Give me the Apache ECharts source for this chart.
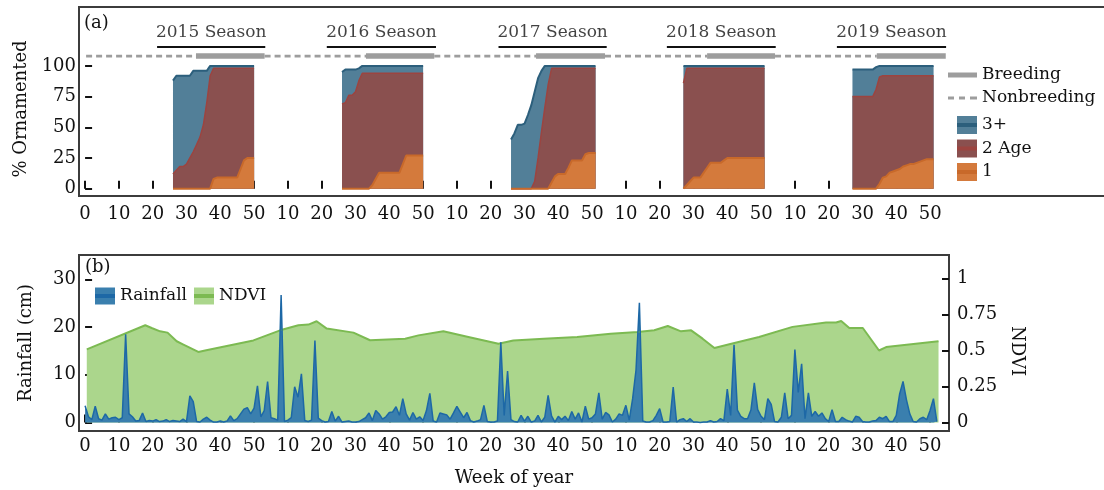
<!DOCTYPE html>
<html>
<head>
<meta charset="utf-8">
<script src="https://cdn.jsdelivr.net/npm/echarts@6/dist/echarts.min.js"></script>
<style>
  html, body { margin: 0; padding: 0; background: #fff; }
  #chart { width: 1104px; height: 490px; }
</style>
</head>
<body>
<div id="chart"></div>
<script>
// Shared week axis: every year takes 50 units, 2015 starts at 0.
const seasons = ['2015 Season', '2016 Season', '2017 Season', '2018 Season', '2019 Season'];
const yearOffset = [0, 50, 100, 150, 200];
const seasonFirstWeek = [26, 26, 26, 27, 27];

// Weekly % ornamented, one row per season, starting at seasonFirstWeek
const orn3Plus = [
  [88, 92, 92, 92, 92, 92, 96, 96, 96, 96, 96, 100, 100, 100, 100, 100, 100, 100, 100, 100, 100, 100, 100, 100, 100],
  [95, 97, 97, 97, 97, 98, 100, 100, 100, 100, 100, 100, 100, 100, 100, 100, 100, 100, 100, 100, 100, 100, 100, 100, 100],
  [40, 45, 52, 52, 53, 60, 68, 79, 90, 96, 100, 100, 100, 100, 100, 100, 100, 100, 100, 100, 100, 100, 100, 100, 100, 100],
  [100, 100, 100, 100, 100, 100, 100, 100, 100, 100, 100, 100, 100, 100, 100, 100, 100, 100, 100, 100, 100, 100, 100, 100, 100],
  [97, 97, 97, 97, 97, 97, 97, 99, 100, 100, 100, 100, 100, 100, 100, 100, 100, 100, 100, 100, 100, 100, 100, 100, 100]
];
const orn2Age = [
  [12, 15, 18, 18, 20, 25, 30, 36, 42, 52, 70, 92, 98, 98, 98, 98, 98, 98, 98, 98, 98, 98, 98, 98, 98],
  [69, 70, 76, 76, 79, 88, 94, 94, 94, 94, 94, 94, 94, 94, 94, 94, 94, 94, 94, 94, 94, 94, 94, 94, 94],
  [0, 0, 0, 0, 0, 0, 0, 6, 25, 46, 66, 85, 98, 98, 98, 98, 98, 98, 98, 98, 98, 98, 98, 98, 98, 98],
  [86, 98, 98, 98, 98, 98, 98, 98, 98, 98, 98, 98, 98, 98, 98, 98, 98, 98, 98, 98, 98, 98, 98, 98, 98],
  [75, 75, 75, 75, 75, 75, 75, 81, 91, 92, 92, 92, 92, 92, 92, 92, 92, 92, 92, 92, 92, 92, 92, 92, 92]
];
const orn1 = [
  [0, 0, 0, 0, 0, 0, 0, 0, 0, 0, 0, 0, 8, 9, 9, 9, 9, 9, 9, 9, 16, 23, 25, 25, 25],
  [0, 0, 0, 0, 0, 0, 0, 0, 0, 3, 8, 13, 13, 13, 13, 13, 13, 13, 20, 27, 27, 27, 27, 27, 27],
  [0, 0, 0, 0, 0, 0, 0, 0, 0, 0, 0, 0, 5, 10, 12, 12, 12, 17, 23, 23, 23, 23, 28, 29, 29, 29],
  [0, 3, 6, 9, 9, 9, 13, 17, 21, 21, 21, 21, 23, 25, 25, 25, 25, 25, 25, 25, 25, 25, 25, 25, 25],
  [0, 0, 0, 0, 0, 0, 0, 0, 4, 9, 10, 13, 14, 15, 16, 18, 19, 20, 20, 21, 22, 23, 24, 24, 24]
];

// Breeding periods and season header spans (axis units)
const breedingStart = [32.8, 83.1, 133.4, 184.0, 234.2];
const breedingEnd = [53.1, 103.3, 153.8, 204.1, 254.6];
const trackStart = 0.3;
const seasonRuleStart = [21.3, 71.5, 122.3, 172.1, 222.4];
const seasonRuleEnd = [53.3, 103.8, 154.3, 204.3, 254.7];
const statusLevel = 108;
const ruleLevel = 115.5;
const headerLevel = 127;

// Weekly rainfall (cm), week index 0..252 on the shared axis
const rainfall = [
  3.5, 1.2, 0.6, 3.4, 0.8, 0.5, 1.8, 0.7, 1.0, 1.1,
  0.6, 1.0, 18.5, 1.8, 1.2, 0.3, 0.4, 2.0, 0.2, 0.4,
  0.3, 0.6, 0.2, 0.3, 0.6, 0.2, 0.4, 0.3, 0.2, 0.7,
  0.2, 5.6, 4.4, 0.2, 0.1, 0.7, 1.1, 0.5, 0.1, 0.1,
  0.3, 0.1, 0.3, 1.4, 0.4, 0.8, 1.8, 2.8, 3.1, 1.8,
  3.0, 7.7, 1.2, 2.5, 8.6, 1.0, 0.8, 0.5, 26.7, 0.2,
  0.5, 1.0, 7.5, 5.3, 10.2, 0.4, 0.2, 0.5, 17.2, 0.9,
  0.4, 0.1, 0.2, 2.3, 0.3, 1.3, 0.1, 0.2, 0.3, 0.1,
  0.1, 0.2, 0.6, 1.0, 2.0, 0.4, 2.5, 1.8, 0.7, 1.2,
  2.1, 2.2, 3.3, 1.5, 5.0, 1.8, 0.5, 2.1, 0.7, 1.2,
  0.4, 2.5, 6.1, 0.3, 0.1, 2.0, 1.8, 1.6, 0.7, 2.0,
  3.4, 2.2, 1.0, 2.1, 0.4, 0.1, 0.3, 0.6, 3.6, 0.2,
  0.1, 0.1, 0.3, 16.8, 1.5, 10.8, 0.6, 0.2, 0.1, 1.5,
  0.3, 1.3, 0.1, 0.3, 1.5, 0.1, 1.1, 5.7, 1.4, 0.1,
  1.3, 0.6, 1.3, 0.4, 2.3, 0.7, 2.0, 0.1, 3.4, 0.7,
  1.0, 1.8, 6.2, 0.7, 2.1, 1.6, 0.1, 0.7, 1.8, 1.5,
  3.6, 0.5, 5.0, 11.0, 25.1, 0.3, 0.1, 0.1, 0.4, 1.5,
  2.9, 0.1, 0.1, 0.2, 7.4, 0.1, 0.6, 0.8, 0.2, 0.8,
  0.1, 0.1, 0.0, 0.1, 0.1, 0.4, 0.1, 0.2, 0.8, 0.4,
  7.0, 1.5, 16.3, 2.6, 1.3, 0.8, 0.8, 2.6, 8.3, 2.7,
  1.3, 0.6, 5.0, 3.8, 0.2, 0.1, 1.1, 6.2, 0.8, 1.5,
  15.3, 6.3, 12.3, 0.8, 6.2, 1.3, 2.3, 1.3, 2.0, 0.8,
  0.2, 2.7, 0.2, 0.2, 1.1, 0.6, 0.3, 0.1, 1.3, 1.1,
  0.2, 0.1, 0.1, 0.3, 0.4, 1.1, 0.8, 1.3, 0.2, 0.2,
  1.5, 6.0, 8.6, 4.8, 1.8, 0.2, 0.1, 0.8, 1.1, 0.6,
  2.5, 5.0, 0.2
];

// NDVI readings: week index and value
const ndviWeek = [0.5, 17.8, 19.7, 22.2, 24.4, 27.1, 29.1, 33.5, 35.5, 49.8, 57.7, 63.1, 66.1, 68.5, 71.5,
  79.4, 84.3, 94.7, 98.6, 106, 113.4, 122.3, 126.7, 135.7, 145.6, 155.5, 163.5, 168.4, 172.4, 176.3,
  179.3, 182.7, 186.2, 191.2, 199.4, 209.3, 219.2, 222.2, 223.7, 226.1, 230.1, 234.9, 237, 252.5];
const ndvi = [0.508, 0.675, 0.656, 0.633, 0.624, 0.564, 0.541, 0.49, 0.50, 0.57, 0.64, 0.675, 0.68, 0.703, 0.652,
  0.624, 0.571, 0.582, 0.605, 0.633, 0.594, 0.547, 0.57, 0.582, 0.594, 0.617, 0.628, 0.64, 0.67, 0.633,
  0.64, 0.582, 0.517, 0.547, 0.594, 0.664, 0.694, 0.694, 0.705, 0.656, 0.656, 0.50, 0.524, 0.564];

// Axis ticks and labels
const weekTicks = [0, 10, 20, 30, 40, 50, 60, 70, 80, 90, 100, 110, 120, 130, 140, 150, 160, 170, 180, 190, 200, 210, 220, 230, 240, 250];
const weekTickLabels = ['0', '10', '20', '30', '40', '50', '10', '20', '30', '40', '50', '10', '20', '30', '40', '50',
  '10', '20', '30', '40', '50', '10', '20', '30', '40', '50'];
const ornTicks = [0, 25, 50, 75, 100];
const rainTicks = [0, 10, 20, 30];
const ndviTicks = [0, 0.25, 0.5, 0.75, 1];
const ndviTickLabels = ['0', '0.25', '0.5', '0.75', '1'];

const FONT = 'DejaVu Serif';
const INK = '#111';

function seasonData(table) {
  const out = [];
  table.forEach((vals, s) => {
    const x0 = yearOffset[s] + seasonFirstWeek[s];
    vals.forEach((v, i) => out.push([x0 + i, v]));
    out.push([x0 + vals.length - 1, '-']);
  });
  return out;
}

function segments(starts, ends, level) {
  const out = [];
  starts.forEach((s, i) => {
    out.push([s, level], [ends[i], level], [ends[i], '-']);
  });
  return out;
}

const nonStarts = [trackStart].concat(breedingEnd.slice(0, 4));
const nonEnds = breedingStart.slice();

function areaSeries(name, table, fill, stroke, width) {
  return {
    name, type: 'line', xAxisIndex: 0, yAxisIndex: 0,
    data: seasonData(table), symbol: 'none', showSymbol: false,
    connectNulls: false,
    lineStyle: { color: stroke, width },
    itemStyle: { color: fill },
    areaStyle: { color: fill, opacity: 1 }
  };
}

const tickFont = { fontFamily: FONT, fontSize: 18, color: INK };
const nameFont = { fontFamily: FONT, fontSize: 18, color: INK };
const legendText = { fontFamily: FONT, fontSize: 17, color: INK, lineHeight: 18 };
const hiddenText = { fontFamily: FONT, fontSize: 17, color: 'rgba(0,0,0,0)', lineHeight: 18 };
const tickLine = { color: INK, width: 2 };

const C3 = { fill: '#527f98', line: '#2c5f7c' };
const C2 = { fill: '#8a504f', line: '#9c4440' };
const C1 = { fill: '#d47a3c', line: '#c8692a' };
const CR = { fill: '#3a7fae', line: '#1d68a6' };
const CN = { fill: '#abd68c', line: '#7cba52' };
const GRAY = '#9d9d9d';

const option = {
  animation: false,
  backgroundColor: '#fff',
  textStyle: { fontFamily: FONT },
  title: [
    { text: '(a)', left: 84, top: 14, padding: 0, textStyle: { fontFamily: FONT, fontSize: 18, fontWeight: 'normal', color: INK } },
    { text: '(b)', left: 85, top: 258, padding: 0, textStyle: { fontFamily: FONT, fontSize: 18, fontWeight: 'normal', color: INK } }
  ],
  grid: [
    { left: 79, top: 7, width: 1028, height: 189, show: true, borderColor: '#3c3c3c', borderWidth: 2,
      containLabel: false, outerBoundsMode: 'none' },
    { left: 79, top: 255, width: 870, height: 176, show: true, borderColor: '#3c3c3c', borderWidth: 2,
      containLabel: false, outerBoundsMode: 'none' }
  ],
  legend: [
    { orient: 'vertical', left: 948, top: 66, padding: 0, itemWidth: 29, itemHeight: 5, itemGap: 5,
      selectedMode: false, textStyle: legendText, itemStyle: { borderWidth: 0 },
      data: [
        { name: 'Breeding', icon: 'rect', itemStyle: { color: GRAY } },
        { name: 'Nonbreeding', icon: 'path://M0,0h6v3h-6z M11,0h6v3h-6z M22,0h7v3h-7z', itemStyle: { color: GRAY } }
      ] },
    { orient: 'vertical', left: 957, top: 116, padding: 0, itemWidth: 20, itemHeight: 18, itemGap: 5.5,
      selectedMode: false, textStyle: legendText, itemStyle: { borderWidth: 0 },
      data: [
        { name: '3+', icon: 'rect', itemStyle: { color: C3.fill } },
        { name: '2 Age', icon: 'rect', itemStyle: { color: C2.fill } },
        { name: '1', icon: 'rect', itemStyle: { color: C1.fill } }
      ] },
    { orient: 'vertical', left: 957, top: 116, padding: 0, itemWidth: 20, itemHeight: 4, itemGap: 5.5,
      selectedMode: false, textStyle: hiddenText, itemStyle: { borderWidth: 0 },
      data: [
        { name: '3+', icon: 'rect', itemStyle: { color: C3.line } },
        { name: '2 Age', icon: 'rect', itemStyle: { color: C2.line } },
        { name: '1', icon: 'rect', itemStyle: { color: C1.line } }
      ] },
    { orient: 'horizontal', left: 95, top: 287, padding: 0, itemWidth: 20, itemHeight: 17, itemGap: 7,
      selectedMode: false, textStyle: legendText, itemStyle: { borderWidth: 0 },
      data: [
        { name: 'Rainfall', icon: 'rect', itemStyle: { color: CR.fill } },
        { name: 'NDVI', icon: 'rect', itemStyle: { color: CN.fill } }
      ] },
    { orient: 'horizontal', left: 95, top: 287, padding: 0, itemWidth: 20, itemHeight: 4, itemGap: 7,
      selectedMode: false, textStyle: hiddenText, itemStyle: { borderWidth: 0 },
      data: [
        { name: 'Rainfall', icon: 'rect', itemStyle: { color: CR.line } },
        { name: 'NDVI', icon: 'rect', itemStyle: { color: CN.line } }
      ] }
  ],
  xAxis: [
    { gridIndex: 0, type: 'value', min: -1.8, max: 302.3,
      axisLine: { show: false }, splitLine: { show: false },
      axisTick: { inside: true, length: 8, lineStyle: tickLine, customValues: weekTicks },
      axisLabel: Object.assign({ customValues: weekTicks, margin: 9,
        formatter: v => weekTickLabels[weekTicks.indexOf(v)] }, tickFont) },
    { gridIndex: 1, type: 'value', min: -1.8, max: 255.6,
      name: 'Week of year', nameLocation: 'middle', nameGap: 38, nameTextStyle: nameFont,
      axisLine: { show: false }, splitLine: { show: false },
      axisTick: { inside: true, length: 8, lineStyle: tickLine, customValues: weekTicks },
      axisLabel: Object.assign({ customValues: weekTicks, margin: 6,
        formatter: v => weekTickLabels[weekTicks.indexOf(v)] }, tickFont) }
  ],
  yAxis: [
    { gridIndex: 0, type: 'value', min: -6, max: 148,
      name: '% Ornamented', nameLocation: 'middle', nameGap: 47,
      nameTextStyle: Object.assign({ padding: [0, 15, 0, 0] }, nameFont),
      axisLine: { show: false }, splitLine: { show: false },
      axisTick: { inside: true, length: 7, lineStyle: tickLine, customValues: ornTicks },
      axisLabel: Object.assign({ customValues: ornTicks, margin: 3 }, tickFont) },
    { gridIndex: 1, type: 'value', min: -1.78, max: 35.1,
      name: 'Rainfall (cm)', nameLocation: 'middle', nameGap: 44, nameTextStyle: nameFont,
      axisLine: { show: false }, splitLine: { show: false },
      axisTick: { inside: true, length: 7, lineStyle: tickLine, customValues: rainTicks },
      axisLabel: Object.assign({ customValues: rainTicks, margin: 3 }, tickFont) },
    { gridIndex: 1, type: 'value', position: 'right', min: -0.059, max: 1.163,
      name: 'NDVI', nameLocation: 'middle', nameRotate: -90, nameGap: 55,
      nameTextStyle: Object.assign({ padding: [0, 0, 0, 16] }, nameFont),
      axisLine: { show: false }, splitLine: { show: false },
      axisTick: { inside: true, length: 7, lineStyle: tickLine, customValues: ndviTicks },
      axisLabel: Object.assign({ customValues: ndviTicks, margin: 8,
        formatter: v => ndviTickLabels[ndviTicks.indexOf(v)] }, tickFont) }
  ],
  series: [
    areaSeries('3+', orn3Plus, C3.fill, C3.line, 2),
    areaSeries('2 Age', orn2Age, C2.fill, C2.line, 1.5),
    areaSeries('1', orn1, C1.fill, C1.line, 2),
    { name: 'Nonbreeding', type: 'line', xAxisIndex: 0, yAxisIndex: 0, symbol: 'none',
      data: segments(nonStarts, nonEnds, statusLevel),
      itemStyle: { color: GRAY },
      lineStyle: { color: GRAY, width: 2.7, type: [6, 4] } },
    { name: 'Breeding', type: 'line', xAxisIndex: 0, yAxisIndex: 0, symbol: 'none',
      data: segments(breedingStart, breedingEnd, statusLevel),
      itemStyle: { color: GRAY },
      lineStyle: { color: GRAY, width: 5.5 } },
    { name: 'season rule', type: 'line', xAxisIndex: 0, yAxisIndex: 0, symbol: 'none', silent: true,
      data: segments(seasonRuleStart, seasonRuleEnd, ruleLevel),
      lineStyle: { color: INK, width: 2 } },
    { name: 'season header', type: 'scatter', xAxisIndex: 0, yAxisIndex: 0, silent: true,
      symbolSize: 1, itemStyle: { color: 'rgba(0,0,0,0)' },
      data: seasons.map((s, i) => ({ name: s, value: [(seasonRuleStart[i] + seasonRuleEnd[i]) / 2, headerLevel] })),
      label: { show: true, position: 'inside', formatter: '{b}', fontFamily: FONT, fontSize: 17, color: INK } },
    { name: 'NDVI', type: 'line', xAxisIndex: 1, yAxisIndex: 2, symbol: 'none',
      data: ndviWeek.map((w, i) => [w, ndvi[i]]),
      lineStyle: { color: CN.line, width: 2 },
      itemStyle: { color: CN.fill },
      areaStyle: { color: CN.fill, opacity: 1 } },
    { name: 'Rainfall', type: 'line', xAxisIndex: 1, yAxisIndex: 1, symbol: 'none',
      data: rainfall.map((v, i) => [i, v]),
      lineStyle: { color: CR.line, width: 1.5 },
      itemStyle: { color: CR.fill },
      areaStyle: { color: CR.fill, opacity: 1 } }
  ]
};

const chart = echarts.init(document.getElementById('chart'), null, { renderer: 'canvas' });
chart.setOption(option);
</script>
</body>
</html>
